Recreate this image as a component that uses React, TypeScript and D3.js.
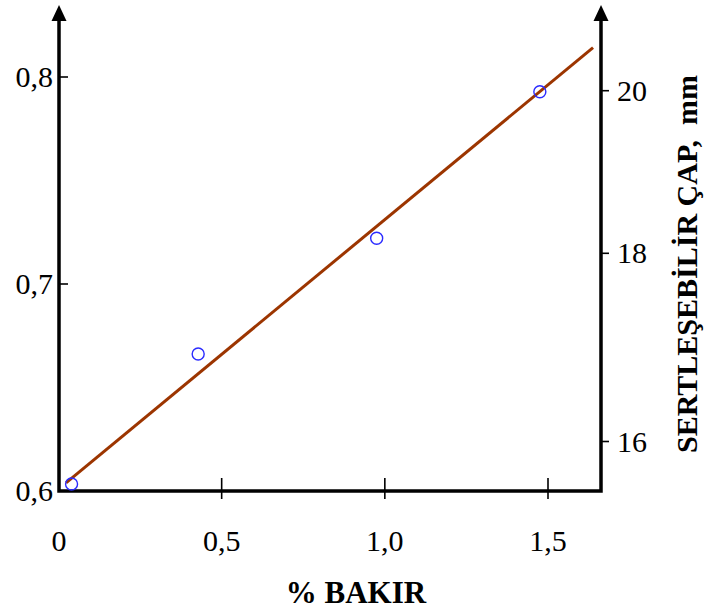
import React from "react";
import * as d3 from "d3";

// Copper content (%) vs. left-axis value
const pointsX = [0.04, 0.428, 0.975, 1.475];
const pointsY = [0.6034, 0.6662, 0.7221, 0.7929];

// Fitted straight line end points
const trendX = [0.023, 1.638];
const trendY = [0.6039, 0.8142];

const xTicks = [0, 0.5, 1.0, 1.5];
const xTickLabels = ["0", "0,5", "1,0", "1,5"];
const yTicks = [0.6, 0.7, 0.8];
const yTickLabels = ["0,6", "0,7", "0,8"];
// Hardenable diameter (mm), non-uniform right-hand scale
const rightTicks = [16, 18, 20];
const rightTickLabels = ["16", "18", "20"];

const xTitle = "% BAKIR";
const rightTitle = "SERTLEŞEBİLİR ÇAP,  mm";

export default function App() {
  const W = 705;
  const H = 612;
  const font = "'Liberation Serif', 'Times New Roman', serif";

  const x = d3.scaleLinear().domain([0, 1.5]).range([58.5, 548]);
  const y = d3.scaleLinear().domain([0.6, 0.8]).range([491, 77]);
  const yR = d3.scaleLinear().domain([16, 18, 20]).range([441.5, 253.3, 90.7]);

  const leftX = 59;
  const rightX = 601;
  const baseY = 491;
  const topY = 5;

  const line = d3
    .line<number>()
    .x((_, i) => x(trendX[i]))
    .y((d) => y(d));

  const arrow = (ax: number) =>
    `M${ax},${topY} L${ax - 7.5},${topY + 16} L${ax + 7.5},${topY + 16} Z`;

  return (
    <svg
      width={W}
      height={H}
      style={{ position: "absolute", left: 0, top: 0, background: "#fff" }}
      fontFamily={font}
    >
      <rect width={W} height={H} fill="#fff" />

      {/* axes frame: left, bottom and right */}
      <path
        d={`M${leftX},${topY + 12} L${leftX},${baseY} L${rightX},${baseY} L${rightX},${topY + 12}`}
        fill="none"
        stroke="#000"
        strokeWidth={3.5}
        strokeLinejoin="miter"
      />
      <path d={arrow(leftX)} fill="#000" />
      <path d={arrow(rightX)} fill="#000" />

      {/* left ticks */}
      {yTicks.map((t, i) => (
        <g key={"yl" + i}>
          {i > 0 && (
            <line x1={leftX} x2={leftX + 9} y1={y(t)} y2={y(t)} stroke="#000" strokeWidth={1.6} />
          )}
          <text x={53} y={y(t) + 10} textAnchor="end" fontSize={30} fill="#000">
            {yTickLabels[i]}
          </text>
        </g>
      ))}

      {/* bottom ticks */}
      {xTicks.map((t, i) => (
        <g key={"xb" + i}>
          {i > 0 && (
            <line x1={x(t)} x2={x(t)} y1={baseY - 13} y2={baseY + 8} stroke="#000" strokeWidth={1.6} />
          )}
          <text x={i === 0 ? leftX : x(t)} y={551} textAnchor="middle" fontSize={30} fill="#000">
            {xTickLabels[i]}
          </text>
        </g>
      ))}

      {/* right ticks */}
      {rightTicks.map((t, i) => (
        <g key={"yr" + i}>
          <line x1={rightX} x2={rightX + 8} y1={yR(t)} y2={yR(t)} stroke="#000" strokeWidth={1.6} />
          <text x={617} y={yR(t) + 10} textAnchor="start" fontSize={30} fill="#000">
            {rightTickLabels[i]}
          </text>
        </g>
      ))}

      {/* fitted line */}
      <path d={line(trendY) || ""} fill="none" stroke="#9c3500" strokeWidth={3} />

      {/* measured points */}
      {pointsX.map((px, i) => (
        <circle
          key={"p" + i}
          cx={x(px)}
          cy={y(pointsY[i])}
          r={6}
          fill="none"
          stroke="#2b2bff"
          strokeWidth={1.4}
        />
      ))}

      {/* axis titles */}
      <text x={356} y={603} textAnchor="middle" fontSize={31} fontWeight="bold" fill="#000">
        {xTitle}
      </text>
      <text
        transform={`translate(697,264) rotate(-90)`}
        textAnchor="middle"
        fontSize={30}
        fontWeight="bold"
        fill="#000"
        style={{ whiteSpace: "pre" }}
      >
        {rightTitle}
      </text>
    </svg>
  );
}
